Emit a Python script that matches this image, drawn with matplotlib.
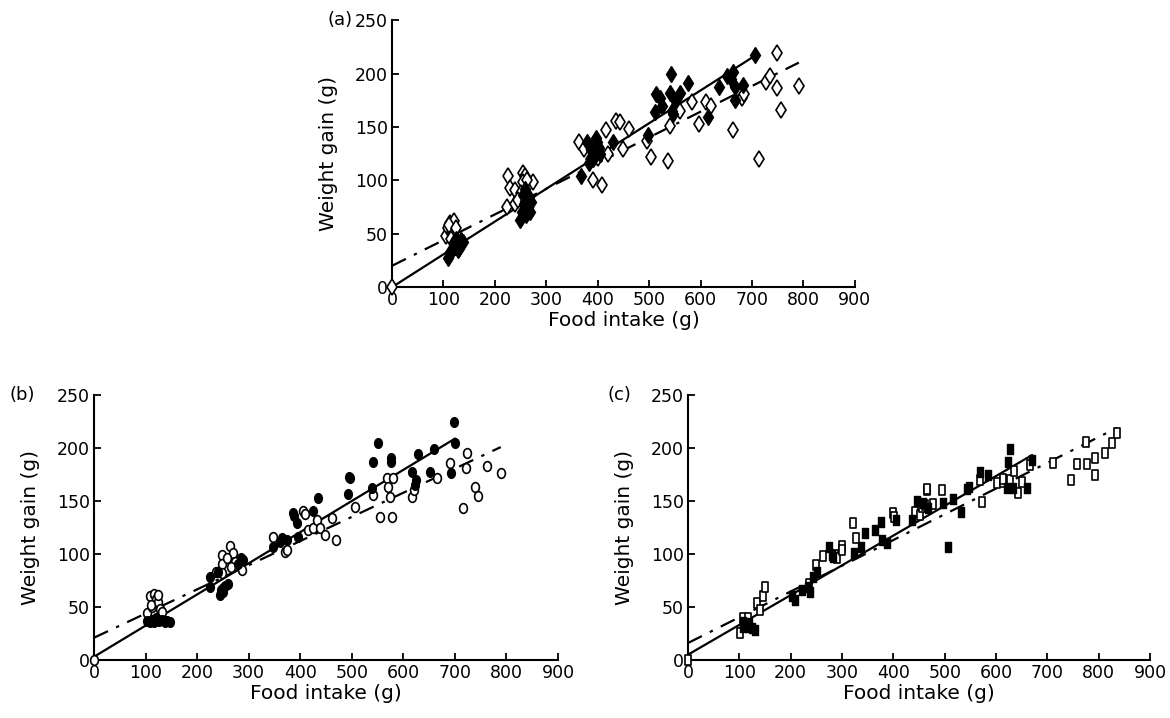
import matplotlib
matplotlib.use("Agg")
import matplotlib.pyplot as plt
import numpy as np
from matplotlib.path import Path
from matplotlib.transforms import Affine2D

# data: (food intake g, weight gain g)
a_filled_x = [109, 112, 118, 122, 126, 130, 132, 135, 138, 125, 120, 128,
              249, 252, 255, 259, 262, 264, 266, 268, 270, 258, 256, 261,
              367, 379, 383, 387, 390, 395, 397, 398, 402, 430, 405,
              498, 511, 514, 521, 525, 540, 542, 544, 546, 550, 560, 576, 614, 636, 651, 660, 663, 667, 667, 682, 706]
a_filled_y = [27, 33, 36, 38, 41, 37, 40, 44, 42, 45, 42, 35,
              63, 70, 86, 81, 76, 75, 84, 70, 80, 92, 78, 68,
              104, 136, 116, 128, 120, 124, 140, 136, 130, 136, 125,
              142, 164, 181, 177, 170, 182, 200, 165, 162, 175, 182, 191, 159, 187, 198, 195, 201, 187, 175, 189, 217]
a_open_x = [0, 105, 109, 113, 117, 120, 122, 115, 110, 125,
            224, 225, 229, 239, 240, 255, 258, 255, 274, 262, 250, 245,
            364, 373, 386, 390, 400, 408, 417, 435, 443, 449, 461, 420,
            495, 503, 537, 540, 583, 597, 610, 663, 680, 684, 713, 727, 735, 748, 749, 756, 791, 560, 620]
a_open_y = [0, 48, 55, 60, 52, 62, 47, 45, 58, 55,
            75, 104, 93, 91, 78, 107, 104, 98, 98, 100, 88, 82,
            136, 129, 120, 100, 121, 96, 147, 156, 155, 129, 148, 125,
            137, 122, 118, 151, 173, 153, 173, 147, 177, 181, 120, 192, 198, 219, 186, 166, 188, 165, 170]

b_filled_x = [103, 108, 112, 117, 122, 127, 132, 137, 142, 147, 120,
              225, 225, 241, 244, 247, 250, 255, 260, 280, 289, 285, 250,
              347, 361, 374, 386, 394, 396, 388, 425, 434, 365,
              493, 495, 497, 539, 541, 551, 576, 576, 617, 622, 624, 628, 652, 660, 692, 698, 700]
b_filled_y = [37, 36, 38, 36, 39, 37, 38, 36, 37, 36, 40,
              69, 78, 83, 61, 66, 64, 70, 72, 91, 94, 96, 68,
              107, 111, 113, 139, 129, 116, 136, 141, 153, 115,
              157, 173, 172, 162, 187, 205, 191, 187, 177, 165, 170, 194, 177, 199, 176, 225, 205]
b_open_x = [0, 102, 108, 112, 116, 120, 124, 128, 132, 125, 110,
            236, 248, 248, 248, 264, 270, 273, 287, 258, 265,
            347, 370, 374, 405, 410, 415, 425, 432, 438, 448, 461, 469,
            506, 541, 555, 568, 570, 574, 578, 580, 617, 621, 665, 690, 716, 721, 723, 739, 745, 762, 789]
b_open_y = [0, 44, 60, 50, 62, 58, 55, 48, 45, 61, 52,
            83, 99, 91, 82, 108, 101, 92, 85, 96, 88,
            116, 102, 104, 141, 138, 123, 125, 132, 125, 118, 134, 113,
            144, 156, 135, 172, 163, 154, 135, 172, 154, 160, 172, 186, 143, 181, 195, 163, 155, 183, 176]

c_filled_x = [107, 108, 117, 119, 125, 131, 203, 209, 222, 234, 238, 244, 251, 275, 281, 283,
              324, 337, 345, 364, 376, 378, 388, 405, 437, 446, 458, 467, 497, 507,
              517, 532, 544, 548, 569, 585, 622, 624, 628, 633, 661, 670]
c_filled_y = [31, 36, 31, 35, 30, 28, 60, 57, 66, 69, 64, 78, 83, 107, 99, 97,
              101, 107, 120, 123, 130, 113, 110, 132, 132, 150, 148, 143, 148, 107,
              152, 140, 161, 163, 177, 175, 162, 187, 199, 162, 162, 189]
c_open_x = [0, 101, 108, 117, 134, 140, 146, 150, 236, 250, 263, 287, 290, 300, 300, 322, 328,
            400, 402, 442, 452, 456, 462, 466, 478, 495, 466, 573, 569, 602, 614, 614, 628, 634,
            643, 651, 667, 710, 745, 758, 776, 777, 792, 793, 813, 826, 836]
c_open_y = [0, 25, 40, 40, 54, 47, 60, 69, 72, 90, 98, 99, 96, 108, 104, 129, 115,
            139, 135, 140, 137, 144, 146, 160, 147, 160, 161, 149, 170, 167, 168, 171, 170, 178,
            158, 168, 184, 186, 170, 185, 206, 185, 175, 191, 195, 205, 214]

# fitted lines: intercept, slope (filled = solid, open = dash-dot)
a_fit = [(0, 0.307), (20, 0.2405)]
b_fit = [(3, 0.294), (21, 0.228)]
c_fit = [(5, 0.281), (16, 0.243)]

x_ticks = [0, 100, 200, 300, 400, 500, 600, 700, 800, 900]
y_ticks = [0, 50, 100, 150, 200, 250]

plt.rcParams['font.family'] = 'DejaVu Sans'

oval = Path.unit_circle().transformed(Affine2D().scale(0.8, 1.0))
rect = Path([(-0.72, -1), (0.72, -1), (0.72, 1), (-0.72, 1), (-0.72, -1)],
            [Path.MOVETO, Path.LINETO, Path.LINETO, Path.LINETO, Path.CLOSEPOLY])

fig = plt.figure(figsize=(11.7, 7.18), dpi=100)
ax_a = fig.add_axes([0.335, 0.600, 0.3957, 0.372])
ax_b = fig.add_axes([0.0803, 0.0808, 0.3966, 0.369])
ax_c = fig.add_axes([0.588, 0.0808, 0.395, 0.369])


def panel(ax, label, lab_x, fx, fy, ox, oy, fits, marker, ms):
    fx, fy, ox, oy = map(np.array, (fx, fy, ox, oy))
    # regression lines
    xs = np.array([0, fx.max()])
    ax.plot(xs, fits[0][0] + fits[0][1] * xs, color='black', lw=1.6, zorder=2)
    xs = np.array([0, ox.max()])
    ax.plot(xs, fits[1][0] + fits[1][1] * xs, color='black', lw=1.6,
            dashes=(7, 4, 1.5, 4), zorder=2)
    ax.plot(ox, oy, ls='none', marker=marker, ms=ms, mfc='white', mec='black',
            mew=1.2, clip_on=False, zorder=3)
    ax.plot(fx, fy, ls='none', marker=marker, ms=ms, mfc='black', mec='black',
            mew=1.0, clip_on=False, zorder=4)

    ax.set_xlim(0, 900)
    ax.set_ylim(0, 250)
    ax.set_xticks(x_ticks)
    ax.set_yticks(y_ticks)
    ax.spines['top'].set_visible(False)
    ax.spines['right'].set_visible(False)
    ax.spines['left'].set_linewidth(1.5)
    ax.spines['bottom'].set_linewidth(1.5)
    ax.tick_params(direction='in', length=5, width=1.3, labelsize=12.5, pad=3)
    ax.set_xlabel('Food intake (g)', fontsize=14.5, labelpad=1)
    ax.set_ylabel('Weight gain (g)', fontsize=14.5, labelpad=12)
    ax.text(lab_x, 1.0, label, transform=ax.transAxes, fontsize=13,
            ha='right', va='center')


panel(ax_a, '(a)', -0.085, a_filled_x, a_filled_y, a_open_x, a_open_y, a_fit, 'd', 8)
panel(ax_b, '(b)', -0.127, b_filled_x, b_filled_y, b_open_x, b_open_y, b_fit, oval, 7)
panel(ax_c, '(c)', -0.122, c_filled_x, c_filled_y, c_open_x, c_open_y, c_fit, rect, 6.5)

fig.savefig('out.png', dpi=100)
